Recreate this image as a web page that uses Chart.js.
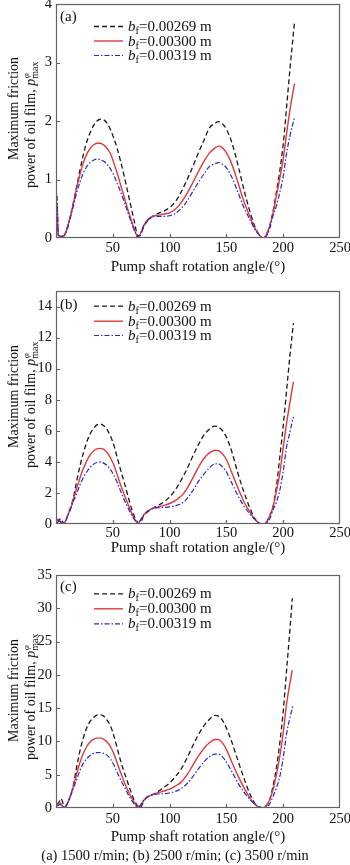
<!DOCTYPE html>
<html>
<head>
<meta charset="utf-8">
<script src="https://cdn.jsdelivr.net/npm/chart.js@4/dist/chart.umd.min.js"></script>
<style>
  html, body { margin: 0; padding: 0; background: #fff; }
  #wrap { position: relative; width: 350px; height: 865px; background: #fff; overflow: hidden; }
  canvas { position: absolute; left: 0; }
  #caption { position: absolute; left: 0; width: 350px; top: 847px; text-align: center;
    font: 14.5px 'Liberation Serif', 'Times New Roman', serif; line-height: 16px; color: #111; }
</style>
</head>
<body>
<div id="wrap">
  <canvas id="ca" width="350" height="280" style="top:0px"></canvas>
  <canvas id="cb" width="350" height="280" style="top:280px"></canvas>
  <canvas id="cc" width="350" height="305" style="top:560px"></canvas>
  <div id="caption">(a) 1500 r/min; (b) 2500 r/min; (c) 3500 r/min</div>
</div>
<script>
const FONT = "'Liberation Serif','Times New Roman',serif";

// ---------- data ----------
const bfValues = ['0.00269', '0.00300', '0.00319'];
const xTickValues = [50, 100, 150, 200, 250];

// Panel (a) 1500 r/min
const anglesA = [1,2,4,7,9,11,13,15,18,21,24,27,30,33,36,39,42,45,48,51,54,57,60,63,66,69,72,74,77,80,85,90,95,100,105,110,115,120,125,130,135,140,143,146,150,155,160,165,170,175,179,182,185,188,191,194,197,200,203,206,210];
const a_bf269 = [0.5,0.05,0.03,0.04,0.12,0.25,0.4,0.58,0.86,1.15,1.42,1.64,1.8,1.92,2.0,2.03,2.02,1.96,1.85,1.7,1.52,1.3,1.06,0.8,0.54,0.28,0.04,0.04,0.18,0.28,0.37,0.42,0.46,0.52,0.62,0.78,0.98,1.2,1.44,1.66,1.88,1.96,1.99,1.96,1.86,1.62,1.26,0.86,0.5,0.2,0.05,0.0,0.05,0.2,0.45,0.78,1.15,1.6,2.24,2.9,3.7];
const a_bf300 = [0.6,0.05,0.03,0.04,0.12,0.25,0.4,0.57,0.84,1.08,1.28,1.43,1.53,1.59,1.62,1.62,1.59,1.53,1.44,1.28,1.1,0.9,0.7,0.5,0.32,0.15,0.02,0.06,0.2,0.3,0.37,0.39,0.41,0.43,0.49,0.6,0.75,0.93,1.12,1.3,1.45,1.54,1.57,1.55,1.46,1.25,0.96,0.65,0.4,0.17,0.05,0.0,0.05,0.2,0.42,0.72,1.02,1.35,1.79,2.2,2.64];
const a_bf319 = [0.72,0.05,0.03,0.04,0.1,0.22,0.37,0.52,0.76,0.95,1.11,1.22,1.29,1.33,1.35,1.34,1.31,1.26,1.18,1.07,0.93,0.78,0.62,0.45,0.28,0.13,0.02,0.06,0.2,0.29,0.36,0.37,0.37,0.38,0.42,0.5,0.62,0.78,0.94,1.09,1.22,1.27,1.29,1.27,1.2,1.03,0.79,0.54,0.34,0.15,0.05,0.0,0.03,0.15,0.38,0.55,0.78,1.05,1.45,1.75,2.07];
const yTicksA = [0,1,2,3,4];

// Panel (b) 2500 r/min
const anglesB = [1,2,4,7,9,11,13,15,18,21,24,27,30,33,36,39,42,45,48,51,54,57,60,63,66,69,72,74,77,80,85,90,95,100,105,110,115,120,125,130,135,140,143,146,150,155,160,165,170,175,179,182,185,188,191,194,197,200,203,206,209];
const b_bf269 = [0.1,0.15,0.35,0.05,0.3,0.7,1.1,1.6,2.7,3.7,4.55,5.25,5.8,6.15,6.38,6.43,6.33,6.08,5.65,5.05,4.25,3.45,2.7,1.9,1.1,0.5,0.1,0.05,0.5,0.75,1.0,1.2,1.42,1.74,2.2,2.8,3.5,4.3,5.05,5.7,6.1,6.3,6.25,6.05,5.6,4.6,3.3,2.15,1.15,0.35,0.05,0.0,0.1,0.5,1.1,2.4,4.3,6.3,8.6,10.9,12.93];
const b_bf300 = [0.3,0.3,0.15,0.05,0.3,0.68,1.05,1.5,2.25,2.95,3.55,4.05,4.45,4.7,4.84,4.87,4.8,4.6,4.25,3.78,3.15,2.5,1.9,1.35,0.8,0.35,0.05,0.2,0.55,0.8,1.0,1.1,1.2,1.32,1.5,1.78,2.25,2.9,3.6,4.2,4.58,4.75,4.72,4.55,4.15,3.25,2.35,1.5,0.85,0.3,0.05,0.0,0.1,0.5,1.1,2.1,3.25,4.9,6.5,7.85,9.16];
const b_bf319 = [0.25,0.25,0.12,0.05,0.28,0.62,1.0,1.4,1.92,2.5,2.98,3.35,3.65,3.85,3.96,3.98,3.92,3.76,3.5,3.13,2.65,2.1,1.56,1.1,0.65,0.3,0.05,0.2,0.55,0.78,1.0,1.05,1.07,1.1,1.18,1.3,1.6,2.1,2.7,3.2,3.6,3.88,3.88,3.72,3.35,2.6,1.85,1.2,0.7,0.3,0.05,0.0,0.05,0.3,0.9,1.4,2.17,3.4,4.97,5.95,6.9];
const yTicksB = [0,2,4,6,8,10,12,14];

// Panel (c) 3500 r/min
const anglesC = [1,3,4.5,6,7.5,9,11,13,15,18,21,24,27,30,33,36,39,42,45,48,51,54,57,60,63,66,69,72,74,77,80,85,90,95,100,105,110,115,120,125,130,135,140,143,146,150,155,160,165,170,175,179,182,185,188,191,194,197,200,203,206,208,209];
const c_bf269 = [0.5,1.0,1.4,0.8,0.1,0.4,1.1,2.0,3.2,6.0,8.5,10.5,12.0,13.0,13.6,13.95,14.0,13.8,13.2,12.3,10.8,8.9,7.0,5.4,3.9,2.4,1.1,0.3,0.05,0.9,1.6,2.0,2.5,3.1,3.75,4.7,5.8,7.4,9.2,10.9,12.3,13.3,13.9,13.8,13.3,12.0,9.8,7.2,4.7,2.4,0.7,0.05,0.0,0.3,1.2,3.24,6.0,9.75,14.5,20.7,27.0,31.5,null];
const c_bf300 = [0.5,0.75,0.6,0.2,0.1,0.4,1.1,2.0,3.1,5.0,6.8,8.2,9.2,9.9,10.3,10.5,10.5,10.3,9.9,9.2,8.1,6.7,5.25,3.9,2.75,1.7,0.8,0.2,0.3,1.1,1.6,2.0,2.3,2.55,2.85,3.3,3.85,4.9,6.3,7.7,8.9,9.8,10.3,10.3,9.9,8.8,6.8,4.9,3.2,1.7,0.55,0.1,0.0,0.3,1.2,2.7,5.0,7.74,11.3,15.7,18.8,20.7,null];
const c_bf319 = [0.3,0.5,0.45,0.2,0.1,0.3,1.0,1.9,2.8,4.2,5.6,6.7,7.4,7.9,8.2,8.33,8.34,8.2,7.9,7.35,6.45,5.3,4.2,3.2,2.2,1.3,0.6,0.15,0.3,1.1,1.6,2.0,2.1,2.15,2.25,2.5,2.9,3.6,4.6,5.8,6.9,7.7,8.1,8.1,7.8,6.9,5.4,3.8,2.5,1.4,0.6,0.2,0.05,0.05,0.6,1.74,3.0,4.74,7.5,11.2,13.6,15.0,15.5];
const yTicksC = [0,5,10,15,20,25,30,35];

// ---------- styles ----------
const seriesStyle = [
  { color: '#1a1a1a', width: 1.3, dash: [5, 3], order: 2 },
  { color: '#e0393b', width: 1.4, dash: [], order: 1 },
  { color: '#2626cf', width: 1.2, dash: [5, 2, 1.5, 2], order: 0 }
];

function pts(xs, ys) { return xs.map((x, i) => ({ x: x, y: ys[i] })); }

const panelPlugin = {
  id: 'panelDecor',
  afterDraw(chart, args, o) {
    const ctx = chart.ctx, a = chart.chartArea, xs = chart.scales.x, ys = chart.scales.y;
    ctx.save();
    // frame
    ctx.strokeStyle = '#636363';
    ctx.lineWidth = 1.2;
    ctx.setLineDash([]);
    ctx.strokeRect(Math.round(a.left) + 0.5, Math.round(a.top) + 0.5,
                   Math.round(a.right - a.left) - 1, Math.round(a.bottom - a.top) - 1);
    // inward ticks
    ctx.beginPath();
    xs.ticks.forEach(t => {
      const px = Math.round(xs.getPixelForValue(t.value)) + 0.5;
      if (px < a.right - 2) { ctx.moveTo(px, a.bottom); ctx.lineTo(px, a.bottom - 4); }
    });
    ys.ticks.forEach(t => {
      const py = Math.round(ys.getPixelForValue(t.value)) + 0.5;
      if (py > a.top + 2 && py < a.bottom - 2) { ctx.moveTo(a.left, py); ctx.lineTo(a.left + 4, py); }
    });
    ctx.stroke();

    ctx.fillStyle = '#111';
    ctx.textBaseline = 'alphabetic';
    ctx.textAlign = 'left';
    // panel tag
    ctx.font = '15px ' + FONT;
    ctx.fillText(o.tag, 60, o.tagY + 5);

    // legend
    chart.data.datasets.forEach((ds, i) => {
      const yy = o.legendY[i];
      ctx.strokeStyle = ds.borderColor;
      ctx.lineWidth = ds.borderWidth;
      ctx.setLineDash(ds.borderDash || []);
      ctx.beginPath();
      ctx.moveTo(94, yy + 0.5);
      ctx.lineTo(123, yy + 0.5);
      ctx.stroke();
      ctx.setLineDash([]);
      let xx = 128;
      ctx.font = 'italic 15px ' + FONT;
      ctx.fillText('b', xx, yy + 5);
      xx += ctx.measureText('b').width;
      ctx.font = '10.5px ' + FONT;
      ctx.fillText('f', xx, yy + 8);
      xx += ctx.measureText('f').width;
      ctx.font = '15px ' + FONT;
      ctx.fillText('=' + bfValues[i] + ' m', xx, yy + 5);
    });

    // y-axis title (two lines, rotated)
    ctx.save();
    ctx.translate(18, o.l1);
    ctx.rotate(-Math.PI / 2);
    ctx.font = '14px ' + FONT;
    ctx.fillText('Maximum friction', 0, 0);
    ctx.restore();

    ctx.save();
    ctx.translate(35, o.l2);
    ctx.rotate(-Math.PI / 2);
    ctx.font = '14px ' + FONT;
    let w = 0;
    const s1 = 'power of oil film, ';
    ctx.fillText(s1, 0, 0);
    w += ctx.measureText(s1).width;
    ctx.font = 'italic 14px ' + FONT;
    ctx.fillText('p', w, 0);
    w += ctx.measureText('p').width;
    ctx.font = 'italic 9px ' + FONT;
    ctx.fillText('φ', w + 0.5, -6);
    ctx.font = '10px ' + FONT;
    ctx.fillText('max', w, 3);
    ctx.restore();

    ctx.restore();
  }
};

function makePanel(id, angles, series, yMax, yTicks, p) {
  const datasets = series.map((vals, i) => ({
    label: 'bf=' + bfValues[i] + ' m',
    data: pts(angles, vals),
    borderColor: seriesStyle[i].color,
    backgroundColor: seriesStyle[i].color,
    borderWidth: seriesStyle[i].width,
    borderDash: seriesStyle[i].dash,
    order: seriesStyle[i].order,
    pointRadius: 0,
    fill: false,
    cubicInterpolationMode: 'monotone',
    spanGaps: false
  }));
  return new Chart(document.getElementById(id), {
    type: 'line',
    data: { datasets },
    options: {
      responsive: false,
      maintainAspectRatio: false,
      devicePixelRatio: 1,
      animation: false,
      events: [],
      layout: { padding: { top: p.top, left: 0, right: 10, bottom: 0 } },
      plugins: {
        legend: { display: false },
        tooltip: { enabled: false },
        panelDecor: p.decor
      },
      scales: {
        x: {
          type: 'linear', min: 0, max: 250,
          grid: { display: false, drawTicks: false },
          border: { display: false },
          afterBuildTicks: s => { s.ticks = xTickValues.map(v => ({ value: v })); },
          afterFit: s => { s.height = p.xH; s.paddingLeft = 0; s.paddingRight = 0; },
          ticks: { color: '#111', padding: p.tickPad, maxRotation: 0, autoSkip: false,
                   font: { family: FONT, size: 14.5 } },
          title: { display: true, text: 'Pump shaft rotation angle/(°)', color: '#111',
                   font: { family: FONT, size: 15 }, padding: { top: 0, bottom: p.titlePad } }
        },
        y: {
          type: 'linear', min: 0, max: yMax,
          grid: { display: false, drawTicks: false },
          border: { display: false },
          afterBuildTicks: s => { s.ticks = yTicks.map(v => ({ value: v })); },
          afterFit: s => { s.width = 56; s.paddingTop = 0; s.paddingBottom = 0; },
          ticks: { color: '#111', padding: 4, autoSkip: false,
                   font: { family: FONT, size: 14.5 } }
        }
      }
    },
    plugins: [panelPlugin]
  });
}

makePanel('ca', anglesA, [a_bf269, a_bf300, a_bf319], 4, yTicksA,
  { top: 4, xH: 42, tickPad: 1, titlePad: 4,
    decor: { tag: '(a)', tagY: 16, legendY: [26, 40.5, 55], l1: 160, l2: 188 } });
makePanel('cb', anglesB, [b_bf269, b_bf300, b_bf319], 15, yTicksB,
  { top: 11, xH: 36, tickPad: 0, titlePad: 3,
    decor: { tag: '(b)', tagY: 24, legendY: [25.7, 40.7, 55], l1: 168, l2: 188 } });
makePanel('cc', anglesC, [c_bf269, c_bf300, c_bf319], 35, yTicksC,
  { top: 15, xH: 57, tickPad: 2, titlePad: 19,
    decor: { tag: '(c)', tagY: 26, legendY: [33.3, 48.3, 63.3], l1: 182, l2: 200 } });
</script>
</body>
</html>
